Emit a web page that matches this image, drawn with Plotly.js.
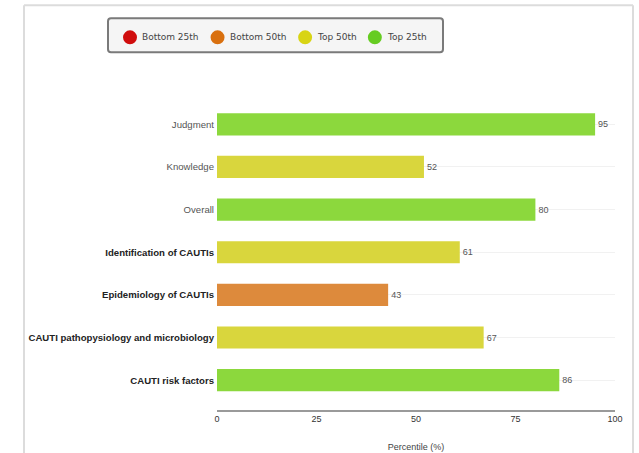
<!DOCTYPE html>
<html><head><meta charset="utf-8">
<script src="https://cdn.plot.ly/plotly-3.0.1.min.js"></script>
<style>html,body{margin:0;padding:0;background:#fff}#chart{width:639px;height:453px}</style>
</head><body><div id="chart"></div>
<script>
const categories = ["Judgment","Knowledge","Overall","Identification of CAUTIs","Epidemiology of CAUTIs","CAUTI pathopysiology and microbiology","CAUTI risk factors"];
const boldLabel = [false,false,false,true,true,true,true];
const values = [95,52,80,61,43,67,86];
const tiers = ["Top 25th","Top 50th","Top 25th","Top 50th","Bottom 50th","Top 50th","Top 25th"];
const tierNames = ["Bottom 25th","Bottom 50th","Top 50th","Top 25th"];
const tierBarColors = {"Bottom 25th":"#d21f1f","Bottom 50th":"#dd8a3c","Top 50th":"#d9d63d","Top 25th":"#8cd83d"};
const tierLegendColors = {"Bottom 25th":"#d00d0d","Bottom 50th":"#d9700f","Top 50th":"#d8d414","Top 25th":"#66cc22"};
const xTicks = [0,25,50,75,100];

const W=639,H=453,L=217,R=615,T=102.7,B=409.9;
const px2x = p => (p-L)/(R-L);
const px2y = p => (B-p)/(B-T);

const ticktext = categories.map((c,i)=> boldLabel[i] ? '<b>'+c+'</b>' : '<span style="color:#555">'+c+'</span>');

const traces = [{
  type:'bar', orientation:'h', y:categories, x:values,
  marker:{color:tiers.map(t=>tierBarColors[t])},
  width:0.52, text:values.map(String), textposition:'outside',
  textfont:{size:9,color:'#555',family:'Liberation Sans, Arial'},
  cliponaxis:false, showlegend:false, hoverinfo:'none'
}];

const frame = {color:'#dcdcdc',width:2};
const shapes = [
  {type:'line',xref:'paper',yref:'paper',x0:px2x(24),x1:px2x(24),y0:px2y(5),y1:px2y(460),line:frame},
  {type:'line',xref:'paper',yref:'paper',x0:px2x(24),x1:px2x(633),y0:px2y(5),y1:px2y(5),line:frame},
  {type:'line',xref:'paper',yref:'paper',x0:px2x(633),x1:px2x(633),y0:px2y(5),y1:px2y(460),line:frame},
  {type:'path',xref:'paper',yref:'paper',layer:'above',fillcolor:'#f5f5f5',line:{color:'#7a7a7a',width:2},
   path:(()=>{const x0=108,x1=443,y0=18,y1=52,r=3;
     const X=p=>px2x(p),Y=p=>px2y(p);
     return `M${X(x0+r)},${Y(y0)} L${X(x1-r)},${Y(y0)} Q${X(x1)},${Y(y0)} ${X(x1)},${Y(y0+r)} L${X(x1)},${Y(y1-r)} Q${X(x1)},${Y(y1)} ${X(x1-r)},${Y(y1)} L${X(x0+r)},${Y(y1)} Q${X(x0)},${Y(y1)} ${X(x0)},${Y(y1-r)} L${X(x0)},${Y(y0+r)} Q${X(x0)},${Y(y0)} ${X(x0+r)},${Y(y0)} Z`;})()}
];
const annotations = [];
// legend drawn as circles + text
const ctx = document.createElement('canvas').getContext('2d');
ctx.font = '9px "DejaVu Sans"';
let cx = 130; const cy = 37, rad = 7;
tierNames.forEach(n=>{
  shapes.push({type:'circle',xref:'paper',yref:'paper',layer:'above',
    x0:px2x(cx-rad),x1:px2x(cx+rad),y0:px2y(cy-rad),y1:px2y(cy+rad),
    fillcolor:tierLegendColors[n],line:{width:0}});
  const tx = cx+10;
  annotations.push({xref:'paper',yref:'paper',x:px2x(tx),y:px2y(cy),xanchor:'left',yanchor:'middle',
    text:n,showarrow:false,font:{family:'DejaVu Sans, Verdana',size:9,color:'#444'}});
  const w = ctx.measureText(n).width || n.length*5.2;
  cx = tx + w + 21;
});

const layout = {
  width:W,height:H,
  margin:{l:L,r:W-R,t:T,b:H-B,pad:0},
  paper_bgcolor:'#fff',plot_bgcolor:'#fff',
  font:{family:'Liberation Sans, Arial',size:9,color:'#333'},
  showlegend:false,
  xaxis:{range:[0,100],tickvals:xTicks,ticktext:xTicks.map(String),showgrid:false,zeroline:false,
    showline:true,linecolor:'#9a9a9a',linewidth:1.5,ticks:'',
    tickfont:{size:9,color:'#333'},
    title:{text:'Percentile (%)',font:{size:9,color:'#444'},standoff:20},fixedrange:true},
  yaxis:{type:'category',categoryorder:'array',categoryarray:categories,range:[6.7,-0.5],
    tickvals:categories,ticktext:ticktext,ticks:'',ticklen:0,ticklabelstandoff:2,
    tickfont:{size:9.6,color:'#222'},showgrid:true,gridcolor:'#f1f1f1',zeroline:false,showline:false,fixedrange:true},
  shapes:shapes, annotations:annotations
};
Plotly.newPlot('chart',traces,layout,{displayModeBar:false,staticPlot:true});
</script></body></html>
